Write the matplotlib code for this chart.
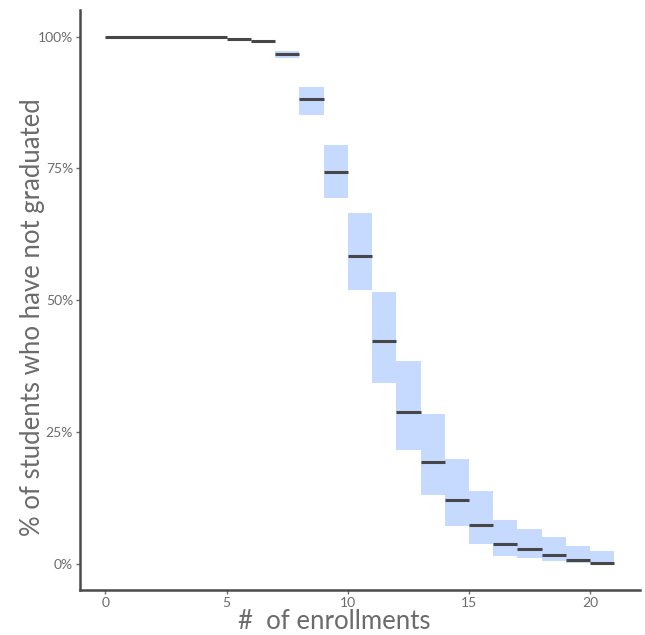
import matplotlib.pyplot as plt
from matplotlib.patches import Rectangle
from matplotlib.ticker import PercentFormatter

# --- 数据: 每个区间 [start, end] 的生存率和置信区间 (%) ---
starts = [0, 5, 6, 7, 8, 9, 10, 11, 12, 13, 14, 15, 16, 17, 18, 19, 20]
ends = [5, 6, 7, 8, 9, 10, 11, 12, 13, 14, 15, 16, 17, 18, 19, 20, 21]
survival = [100.0, 99.6, 99.1, 96.6, 88.1, 74.3, 58.4, 42.2, 28.8, 19.2,
            12.1, 7.4, 3.7, 2.7, 1.7, 0.6, 0.1]
lower = [100.0, 99.5, 99.0, 95.9, 85.2, 69.3, 51.9, 34.2, 21.5, 13.0,
         7.2, 3.7, 1.5, 1.0, 0.4, 0.1, 0.0]
upper = [100.0, 99.7, 99.2, 97.3, 90.5, 79.4, 66.6, 51.5, 38.4, 28.3,
         19.9, 13.8, 8.3, 6.6, 5.1, 3.4, 2.3]

x_ticks = [0, 5, 10, 15, 20]
y_ticks = [0, 25, 50, 75, 100]

plt.rcParams['font.family'] = ['Lato', 'DejaVu Sans']

grey = '#6b6b6b'

fig = plt.figure(figsize=(6.45, 6.35), dpi=100)
ax = fig.add_axes([0.124, 0.071, 0.868, 0.913])

for s, e, v, lo, hi in zip(starts, ends, survival, lower, upper):
    ax.add_patch(Rectangle((s, lo), e - s, hi - lo, facecolor='#c6d9ff',
                           edgecolor='none', zorder=1))
    ax.hlines(v, s, e, colors='#474747', linewidth=2.2, zorder=2)

ax.set_xlim(-1.05, 22.05)
ax.set_ylim(-5, 105)
ax.set_xticks(x_ticks)
ax.set_yticks(y_ticks)
ax.yaxis.set_major_formatter(PercentFormatter(decimals=0))

for side in ['top', 'right']:
    ax.spines[side].set_visible(False)
for side in ['left', 'bottom']:
    ax.spines[side].set_color('#4a4a4a')
    ax.spines[side].set_linewidth(1.8)

ax.tick_params(axis='both', colors=grey, labelsize=10, length=3, width=1,
               pad=2)

ax.set_xlabel('#  of enrollments', fontsize=18.5, color=grey)
ax.set_ylabel('% of students who have not graduated', fontsize=18.5,
              color=grey)
# 标签位置对齐参考图
ax.xaxis.set_label_coords(0.455, -0.033)
ax.yaxis.set_label_coords(-0.062, 0.47)

fig.savefig('out.png', dpi=100)
